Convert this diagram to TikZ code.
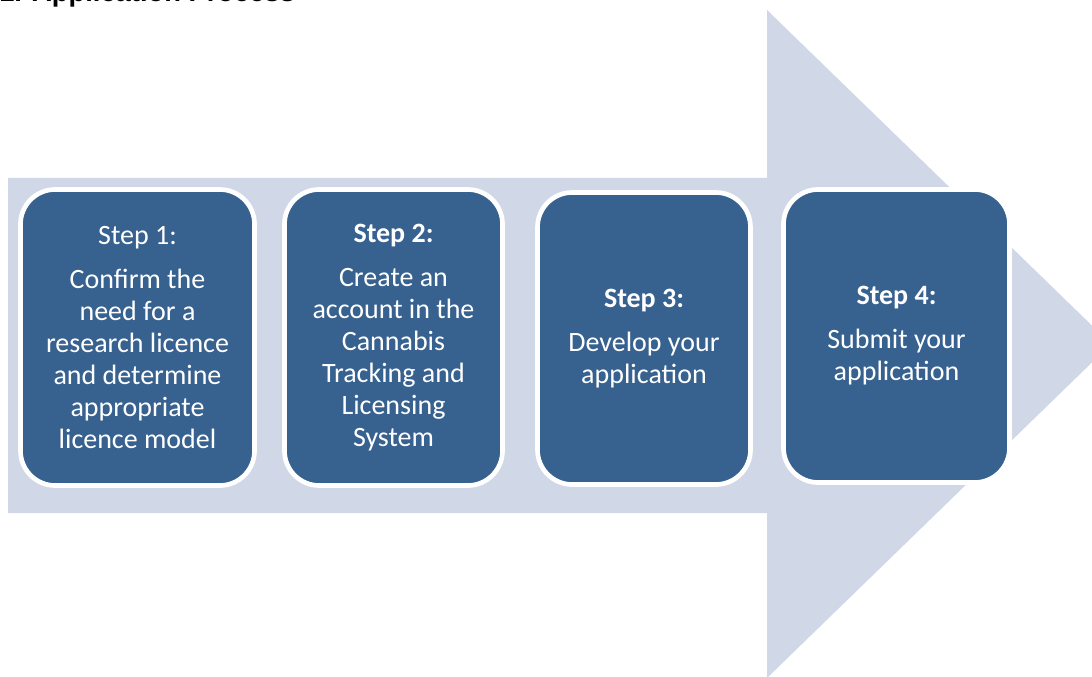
\documentclass[tikz,border=0pt]{standalone}
\usepackage{fontspec}
\setmainfont{Carlito}
\newfontfamily\titlefont{Liberation Sans}
\definecolor{arrowbg}{HTML}{D0D8E8}
\definecolor{stepblue}{HTML}{37618F}
\begin{document}
\begin{tikzpicture}[x=0.75pt,y=-0.75pt,
  stepbox/.style={draw=white, line width=3.5pt, fill=stepblue, rounded corners=26pt,
    text=white, align=center, font=\fontsize{21}{24}\selectfont, inner sep=0pt},
  steplabel/.style={font=\fontsize{21}{24}\selectfont\bfseries}]
\useasboundingbox (0,0) rectangle (1092,677);
\clip (0,0) rectangle (1092,677);
\node[anchor=base west, inner sep=0pt, font=\titlefont\fontsize{20.5}{24}\selectfont\bfseries] (title) at (-1,1.5) {1. Application Process};
\fill[arrowbg] (8,178) -- (767,178) -- (767,10) -- (1111,344) -- (767,678) -- (767,513) -- (8,513) -- cycle;
\node[stepbox, minimum width=175.5pt, minimum height=222pt] (s1) at (137.5,337.5)
  {Step 1:\\[9pt] Confirm the\\ need for a\\ research licence\\ and determine\\ appropriate\\ licence model};
\node[stepbox, minimum width=163.5pt, minimum height=222pt] (s2) at (393.5,337.5)
  {\textbf{Step 2:}\\[9pt] Create an\\ account in the\\ Cannabis\\ Tracking and\\ Licensing\\ System};
\node[stepbox, minimum width=159.75pt, minimum height=219pt] (s3) at (644,338.5)
  {\textbf{Step 3:}\\[9pt] Develop your\\ application};
\node[stepbox, minimum width=169.5pt, minimum height=219.75pt] (s4) at (896.5,336)
  {\textbf{Step 4:}\\[9pt] Submit your\\ application};
\end{tikzpicture}
\end{document}
